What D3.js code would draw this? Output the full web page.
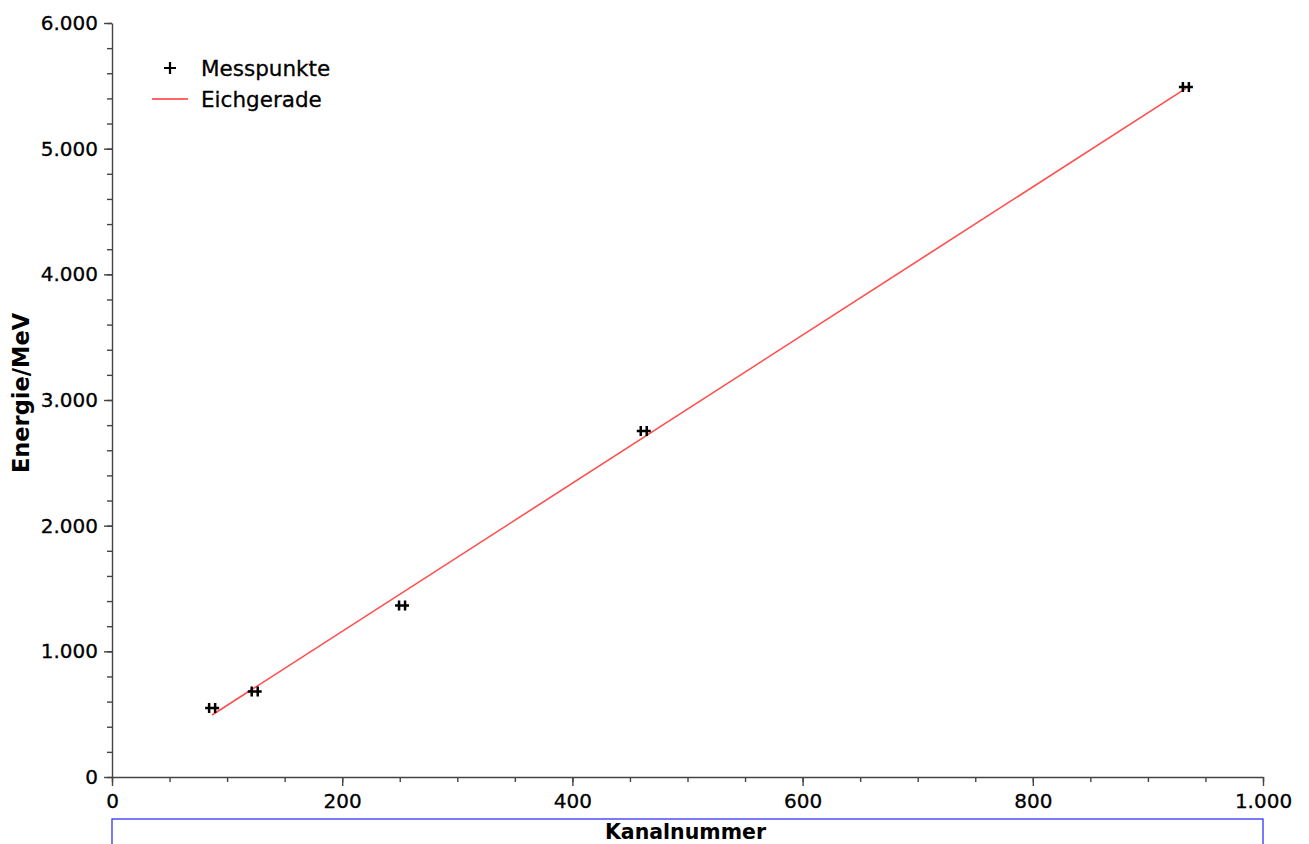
<!DOCTYPE html>
<html><head><meta charset="utf-8">
<script src="https://cdn.jsdelivr.net/npm/d3@7"></script>
<style>body{margin:0;background:#fff}svg{display:block}</style>
</head><body>
<svg id="c" width="1309" height="844"></svg>
<script>
const pointsX = [87, 124, 252, 462, 933];
const pointsY = [549, 680, 1365, 2754, 5490];
const fitX = [87, 933];
const fitY = [493, 5480];
const xTicks = [0, 200, 400, 600, 800, 1000];
const yTicks = [0, 1000, 2000, 3000, 4000, 5000, 6000];
const seriesNames = ["Messpunkte", "Eichgerade"];

const svg = d3.select("#c");
const L = 112, R = 1263, T = 23, B = 777;
const x = d3.scaleLinear().domain([0, 1000]).range([L, R]);
const y = d3.scaleLinear().domain([0, 6000]).range([B, T]);
const loc = d3.formatLocale({decimal: ",", thousands: ".", grouping: [3], currency: ["", "€"]});
const fmt = loc.format(",d");
const FONT = "DejaVu Sans";

// minor ticks
const gx = svg.append("g").attr("transform", `translate(0,${B})`);
gx.call(d3.axisBottom(x).tickValues(d3.range(0, 1001, 50)).tickSize(5).tickFormat(""));
gx.call(g => g.select(".domain").remove());
const gx2 = svg.append("g").attr("transform", `translate(0,${B})`)
  .call(d3.axisBottom(x).tickValues(xTicks).tickSize(9).tickSizeOuter(0).tickPadding(8).tickFormat(fmt));
const gy = svg.append("g").attr("transform", `translate(${L},0)`);
gy.call(d3.axisLeft(y).tickValues(d3.range(0, 6001, 200)).tickSize(5).tickFormat(""));
gy.call(g => g.select(".domain").remove());
const gy2 = svg.append("g").attr("transform", `translate(${L},0)`)
  .call(d3.axisLeft(y).tickValues(yTicks).tickSize(8).tickSizeOuter(0).tickPadding(6).tickFormat(fmt));
svg.selectAll(".tick line, .domain").attr("stroke", "#444").attr("stroke-width", 1.4);
svg.selectAll(".tick text").attr("font-family", FONT).attr("font-size", 20).attr("fill", "#000")
  .attr("stroke", "#000").attr("stroke-width", 0.3);

// fit line
svg.append("path")
  .datum(fitX.map((v, i) => [v, fitY[i]]))
  .attr("d", d3.line().x(d => x(d[0])).y(d => y(d[1])))
  .attr("fill", "none").attr("stroke", "#ff4d4d").attr("stroke-width", 1.6);

// markers
const mk = "M-7,0H7M-3,-5V5M3,-5V5";
svg.append("g").selectAll("path").data(pointsX.map((v, i) => [v, pointsY[i]])).join("path")
  .attr("transform", d => `translate(${x(d[0])},${y(d[1])})`)
  .attr("d", mk).attr("stroke", "#000").attr("stroke-width", 2.5).attr("fill", "none");

// legend
svg.append("path").attr("d", "M164,68H176M170,62V74").attr("stroke", "#000").attr("stroke-width", 2.2);
svg.append("line").attr("x1", 152).attr("x2", 188).attr("y1", 99).attr("y2", 99)
  .attr("stroke", "#ff6666").attr("stroke-width", 1.8);
svg.append("text").attr("x", 201).attr("y", 68).attr("dy", "0.36em").text(seriesNames[0])
  .attr("font-family", FONT).attr("font-size", 21.5).attr("stroke", "#000").attr("stroke-width", 0.3);
svg.append("text").attr("x", 201).attr("y", 99).attr("dy", "0.36em").text(seriesNames[1])
  .attr("font-family", FONT).attr("font-size", 21.5).attr("stroke", "#000").attr("stroke-width", 0.3);

// axis titles
svg.append("text").attr("transform", `translate(29,${(T + B) / 2 - 7}) rotate(-90)`)
  .attr("text-anchor", "middle").text("Energie/MeV")
  .attr("font-family", FONT).attr("font-weight", "bold").attr("font-size", 22.5);
svg.append("rect").attr("x", L).attr("y", 819).attr("width", R - L).attr("height", 60)
  .attr("fill", "none").attr("stroke", "#3333ff").attr("stroke-width", 1.3);
svg.append("text").attr("x", (L + R) / 2 - 2).attr("y", 839).attr("text-anchor", "middle").text("Kanalnummer")
  .attr("font-family", FONT).attr("font-weight", "bold").attr("font-size", 20.5);
</script>
</body></html>
